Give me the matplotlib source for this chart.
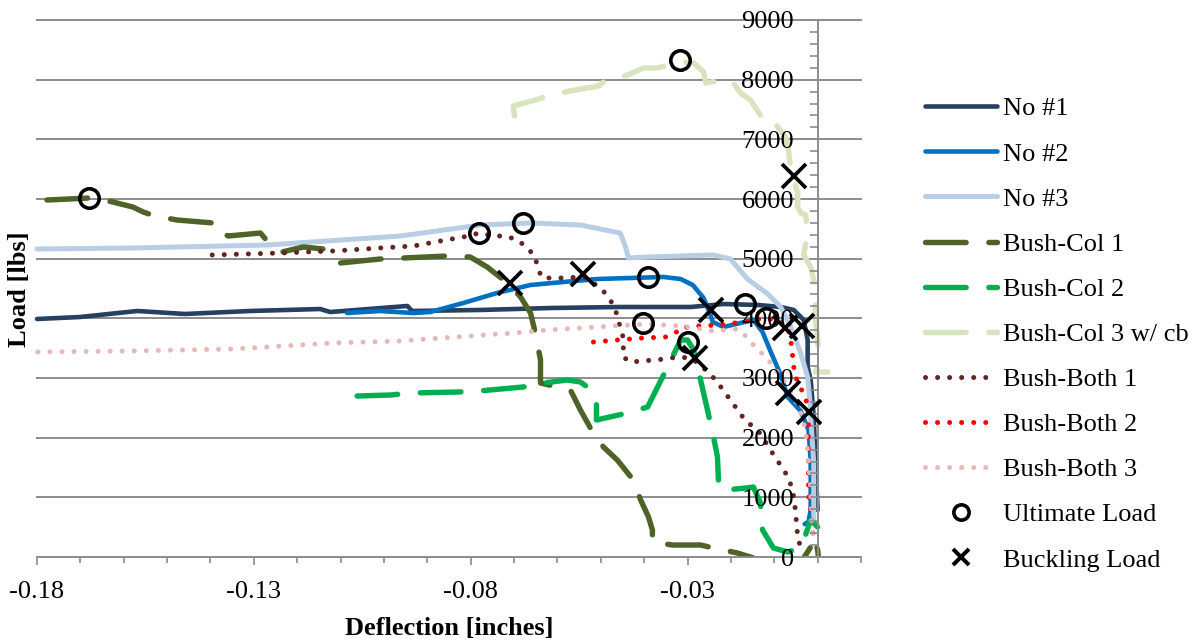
import matplotlib
matplotlib.use('Agg')
import matplotlib.pyplot as plt
from matplotlib.lines import Line2D
from matplotlib.ticker import MultipleLocator, FixedLocator

plt.rcParams['font.family'] = ['Liberation Serif', 'DejaVu Serif']

# ---------------- data ----------------
no1_x = [-0.180, -0.1701, -0.1569, -0.1459, -0.1309, -0.1147, -0.1124, -0.0946, -0.0935, -0.0778,
         -0.0616, -0.0455, -0.0293, -0.0217, -0.0138, -0.0085, -0.0055, -0.0032, -0.0023, -0.0023,
         -0.0016, -0.0009, -0.0005, 0.0]
no1_y = [3989, 4022, 4123, 4073, 4123, 4156, 4106, 4207, 4123, 4140,
         4173, 4190, 4190, 4240, 4224, 4190, 4140, 3972, 3637, 3184,
         2967, 2346, 1575, 788]

no2_x = [-0.1085, -0.1009, -0.0932, -0.0893, -0.0817, -0.0739, -0.0662, -0.0586, -0.0508, -0.0432,
         -0.0355, -0.0316, -0.0288, -0.0263, -0.0247, -0.0242, -0.0217, -0.0178, -0.0148, -0.0127,
         -0.0108, -0.0085, -0.0069, -0.0039, -0.0021, -0.0016, -0.0016, -0.0021, -0.0030]
no2_y = [4089, 4123, 4089, 4106, 4257, 4425, 4559, 4609, 4659, 4676,
         4693, 4659, 4559, 4341, 4056, 3939, 3855, 3922, 3972, 3771,
         3436, 3050, 2682, 2447, 2129, 1626, 788, 587, 553]

no3_x = [-0.180, -0.1579, -0.1269, -0.0962, -0.0778, -0.0662, -0.0547, -0.0455, -0.0443, -0.0436,
         -0.0392, -0.0316, -0.0240, -0.0201, -0.0162, -0.0115, -0.0085, -0.0062, -0.0039, -0.0023,
         -0.0018, -0.0014, -0.0009, -0.0009, -0.0009]
no3_y = [5162, 5179, 5229, 5380, 5564, 5598, 5564, 5430, 5196, 5011,
         5028, 5045, 5062, 4994, 4659, 4408, 4190, 3855, 3419, 3017,
         2631, 2129, 1575, 788, 587]

col1_x = [-0.1777, -0.1678, -0.1625, -0.1579, -0.1555, -0.1528, -0.1477, -0.1394, -0.1390, -0.1359,
          -0.1285, -0.1269, -0.1235, -0.1186, -0.1140, -0.1101, -0.1009, -0.0955, -0.0854, -0.0801,
          -0.0762, -0.0715, -0.0685, -0.0662, -0.0651, -0.0639, -0.0639, -0.0570, -0.0547, -0.0524,
          -0.0494, -0.0462, -0.0425, -0.0408, -0.0390, -0.0381, -0.0381, -0.0335, -0.0270, -0.0240,
          -0.0185, -0.0148, -0.0108, -0.0051, -0.0032, -0.0016, -0.0009, 0.0, 0.0002]
col1_y = [5983, 6017, 5950, 5866, 5782, 5715, 5648, 5598, 5481, 5380,
          5430, 5296, 5112, 5196, 5162, 4927, 4994, 5011, 5045, 5028,
          4860, 4592, 4358, 4089, 3754, 3302, 2916, 2799, 2464, 2162,
          1844, 1626, 1291, 955, 670, 453, 251, 201, 201, 151,
          67, -17, -302, -302, -17, 168, 335, 117, -17]

col2_x = [-0.1062, -0.0985, -0.0935, -0.0831, -0.0782, -0.0679, -0.0632, -0.0577, -0.0547, -0.0531,
          -0.0515, -0.0510, -0.0510, -0.0439, -0.0392, -0.0346, -0.0316, -0.0300, -0.0286, -0.0263,
          -0.0254, -0.0240, -0.0231, -0.0228, -0.0212, -0.0166, -0.0148, -0.0132, -0.0127, -0.0102,
          -0.0069, -0.0055, -0.0032, -0.0016, 0.0]
col2_y = [2698, 2715, 2749, 2765, 2782, 2849, 2916, 2967, 2933, 2849,
          2715, 2548, 2296, 2413, 2514, 3184, 3637, 3637, 3469, 2749,
          2464, 2011, 1676, 1173, 1123, 1156, 1173, 905, 453, 151,
          84, 117, 285, 620, 503]

col3_x = [-0.0699, -0.0702, -0.0651, -0.0616, -0.0559, -0.0505, -0.0489, -0.0438, -0.0402, -0.0369,
          -0.0346, -0.0316, -0.0286, -0.0263, -0.0258, -0.0212, -0.0194, -0.0178, -0.0155, -0.0143,
          -0.0127, -0.0108, -0.0092, -0.0074, -0.0067, -0.0062, -0.0055, -0.0046, -0.0046, -0.0039,
          -0.0028, -0.0023, -0.0028, -0.0032, -0.0016, -0.0009, -0.0005, -0.0005, 0.0, 0.0002,
          -0.0005, 0.0023]
col3_y = [7391, 7559, 7659, 7743, 7827, 7894, 7994, 8078, 8196, 8196,
          8246, 8296, 8279, 8129, 7944, 8011, 7944, 7777, 7659, 7525,
          7358, 7374, 7207, 7039, 6821, 6486, 6319, 6101, 5866, 5765,
          5732, 5480, 5229, 5062, 4860, 4643, 4425, 4022, 3637, 3251,
          3101, 3101]

both1_x = [-0.1396, -0.1239, -0.1117, -0.1009, -0.0932, -0.0870, -0.0817, -0.0780, -0.0748, -0.0720,
           -0.0692, -0.0669, -0.0651, -0.0646, -0.0635, -0.0593, -0.0540, -0.0517, -0.0496, -0.0478,
           -0.0466, -0.0459, -0.0450, -0.0448, -0.0448, -0.0432, -0.0404, -0.0378, -0.0351, -0.0323,
           -0.0293, -0.0270, -0.0235, -0.0201, -0.0166, -0.0138, -0.0113, -0.0097, -0.0081, -0.0067,
           -0.0058, -0.0053, -0.0051, -0.0048, -0.0046, -0.0039, -0.0023]
both1_y = [5062, 5095, 5129, 5179, 5212, 5296, 5363, 5430, 5380, 5380,
           5313, 5179, 5028, 4844, 4676, 4676, 4693, 4592, 4475, 4307,
           4140, 3939, 3754, 3553, 3352, 3268, 3285, 3302, 3318, 3352,
           3335, 3218, 2967, 2631, 2279, 2129, 1844, 1659, 1492, 1324,
           1123, 905, 737, 536, 318, 168, 151]

both2_x = [-0.0517, -0.0462, -0.0404, -0.0351, -0.0328, -0.0316, -0.0277, -0.0228, -0.0173, -0.0120,
           -0.0085, -0.0069, -0.0062, -0.0058, -0.0053, -0.0039, -0.0028, -0.0021, -0.0021, -0.0021,
           -0.0021, -0.0016, -0.0012, -0.0009]
both2_y = [3603, 3637, 3670, 3687, 3754, 3838, 3872, 3888, 3939, 4006,
           3939, 3855, 3637, 3386, 3050, 2832, 2665, 2464, 2129, 1626,
           1039, 788, 453, 285]

both3_x = [-0.1798, -0.1579, -0.1348, -0.1117, -0.0962, -0.0870, -0.0702, -0.0623, -0.0508, -0.0392,
           -0.0316, -0.0240, -0.0185, -0.0166, -0.0148, -0.0125, -0.0104, -0.0085, -0.0067, -0.0051,
           -0.0039, -0.0028, -0.0021, -0.0016, -0.0014, -0.0012]
both3_y = [3436, 3453, 3486, 3587, 3620, 3670, 3754, 3804, 3855, 3905,
           3872, 3788, 3821, 3704, 3553, 3386, 3218, 3017, 2832, 2631,
           2413, 2129, 1626, 1123, 620, 369]

ult_x = [-0.1680, -0.0780, -0.0679, -0.0390, -0.0402, -0.0300, -0.0318, -0.0168, -0.0118]
ult_y = [6017, 5430, 5598, 4693, 3922, 3603, 8330, 4240, 4006]

buck_x = [-0.0709, -0.0540, -0.0282, -0.0247, -0.0076, -0.0037, -0.0069, -0.0021, -0.0055]
buck_y = [4592, 4743, 3335, 4140, 3838, 3872, 2749, 2430, 6386]

series_names = ['No #1', 'No #2', 'No #3', 'Bush-Col 1', 'Bush-Col 2', 'Bush-Col 3 w/ cb',
                'Bush-Both 1', 'Bush-Both 2', 'Bush-Both 3']
marker_names = ['Ultimate Load', 'Buckling Load']

x_ticks = [-0.18, -0.13, -0.08, -0.03]
x_tick_labels = ['-0.18', '-0.13', '-0.08', '-0.03']
y_ticks = [0, 1000, 2000, 3000, 4000, 5000, 6000, 7000, 8000, 9000]
y_tick_labels = ['0', '1000', '2000', '3000', '4000', '5000', '6000', '7000', '8000', '9000']

# ---------------- styles ----------------
solid = dict(ls='-', solid_capstyle='round', solid_joinstyle='round')
dash = dict(ls=(0, (7.5, 4.2)), dash_capstyle='round', dash_joinstyle='round')
dot = dict(ls=(0, (0.01, 2.4)), dash_capstyle='round', dash_joinstyle='round')

styles = [
    dict(color='#254061', lw=3.3, **solid),
    dict(color='#0070C0', lw=3.3, **solid),
    dict(color='#B9CDE5', lw=3.6, **solid),
    dict(color='#4F6228', lw=3.9, **dash),
    dict(color='#00B050', lw=3.9, **dash),
    dict(color='#D7E4BD', lw=3.9, **dash),
    dict(color='#632523', lw=3.6, **dot),
    dict(color='#FF0000', lw=3.6, **dot),
    dict(color='#E6B9B8', lw=3.6, **dot),
]
data = [(no1_x, no1_y), (no2_x, no2_y), (no3_x, no3_y), (col1_x, col1_y), (col2_x, col2_y),
        (col3_x, col3_y), (both1_x, both1_y), (both2_x, both2_y), (both3_x, both3_y)]

W, H = 1198, 643
fig = plt.figure(figsize=(W / 100, H / 100), dpi=100)
ax = fig.add_axes([37 / W, 86 / H, 824 / W, 537 / H])
ax.set_xlim(-0.18, 0.01)
ax.set_ylim(0, 9000)

grid_c = '#8C8C8C'
for v in y_ticks[1:]:
    ax.axhline(v, color=grid_c, lw=1.4, zorder=1, clip_on=False)

handles = []
for i, ((xs, ys), st) in enumerate(zip(data, styles)):
    clip = (i == 3)
    ax.plot(xs, ys, zorder=2, clip_on=clip, **st)
    handles.append(Line2D([], [], **st))

ax.plot(ult_x, ult_y, ls='none', marker='o', ms=14, mfc='none', mec='black', mew=2.6,
        zorder=4, clip_on=False)
ax.plot(buck_x, buck_y, ls='none', marker='x', ms=17, mec='black', mew=2.7,
        zorder=4, clip_on=False)
handles.append(Line2D([], [], ls='none', marker='o', ms=11, mfc='none', mec='black', mew=2.6))
handles.append(Line2D([], [], ls='none', marker='x', ms=12, mec='black', mew=2.9))

for sp in ['top', 'right']:
    ax.spines[sp].set_visible(False)
ax.spines['left'].set_position(('data', 0))
for sp in ['left', 'bottom']:
    ax.spines[sp].set_color(grid_c)
    ax.spines[sp].set_linewidth(1.4)
ax.set_axisbelow(False)

ax.xaxis.set_major_locator(FixedLocator(x_ticks))
ax.set_xticklabels(x_tick_labels)
ax.xaxis.set_minor_locator(MultipleLocator(0.01))
ax.yaxis.set_major_locator(FixedLocator(y_ticks))
ax.set_yticklabels(y_tick_labels)
ax.yaxis.set_minor_locator(MultipleLocator(200))

ax.tick_params(axis='y', which='both', direction='out', length=6, width=1.2, color=grid_c,
               pad=11, labelsize=19)
ax.tick_params(axis='x', which='major', direction='out', length=5.5, width=1.2, color=grid_c,
               pad=12, labelsize=19)
ax.tick_params(axis='x', which='minor', direction='out', length=4, width=1.2, color=grid_c)

fig.text(449 / W, 1 - 629 / H, 'Deflection [inches]', ha='center', va='center',
         fontsize=19, fontweight='bold')
fig.text(20 / W, 1 - 289 / H, 'Load [lbs]', ha='center', va='center', rotation=90,
         fontsize=19, fontweight='bold')

leg = ax.legend(handles, series_names + marker_names, loc='upper left',
                bbox_to_anchor=(925 / W, 1 - 97 / H), bbox_transform=fig.transFigure,
                frameon=False, fontsize=19, handlelength=2.73, handletextpad=0.23,
                labelspacing=0.82, borderpad=0, borderaxespad=0)

fig.savefig('out.png', dpi=100)
